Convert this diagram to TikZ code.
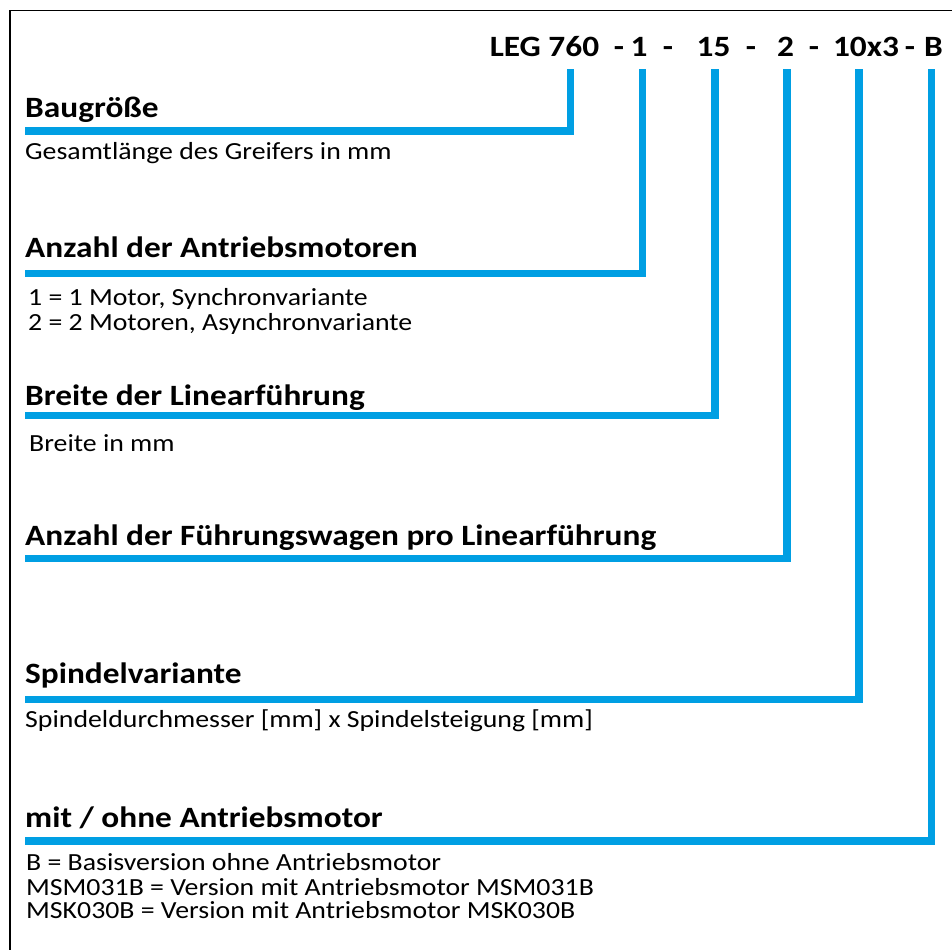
\documentclass[tikz,border=0pt]{standalone}
\usepackage{fontspec}
\setmainfont{Carlito}[FakeStretch=1.13]
\definecolor{legblue}{RGB}{0,159,227}
\tikzset{
  code/.style={anchor=base,inner sep=0pt,font=\fontsize{29.5}{35}\selectfont\bfseries},
  head/.style={anchor=base west,inner sep=0pt,font=\fontsize{29.5}{35}\selectfont\bfseries},
  body/.style={anchor=base west,inner sep=0pt,font=\fontsize{24.6}{29}\selectfont},
  bar/.style={draw=legblue,line width=7.3pt,line join=miter},
}
\begin{document}
\begin{tikzpicture}[x=1pt,y=-1pt]
        \useasboundingbox (0,0) rectangle (952,950);
        \draw[line width=1.5pt] (952,10.5) -- (10,10.5) -- (10,950);

        % type code
        \node[code] (leg)  at (544.5,56.7) {LEG 760};
        \node[code] (m1)   at (619,56.7)   {-};
        \node[code] (c1)   at (639,56.7)   {1};
        \node[code] (m2)   at (668,56.7)   {-};
        \node[code] (c2)   at (713.5,56.7) {15};
        \node[code] (m3)   at (751,56.7)   {-};
        \node[code] (c3)   at (785.5,56.7) {2};
        \node[code] (m4)   at (814,56.7)   {-};
        \node[code] (c4)   at (866,56.7)   {10x3};
        \node[code] (m5)   at (910,56.7)   {-};
        \node[code] (c5)   at (933.4,56.7) {B};

        % headings
        \node[head] (h0) at (25,117)   {Baugröße};
        \node[head] (h1) at (25,257)   {Anzahl der Antriebsmotoren};
        \node[head] (h2) at (25,405)   {Breite der Linearführung};
        \node[head] (h3) at (25,545)   {Anzahl der Führungswagen pro Linearführung};
        \node[head] (h4) at (25,683)   {Spindelvariante};
        \node[head] (h5) at (25,827)   {mit / ohne Antriebsmotor};

        % descriptions
        \node[body] (b0)  at (25,159)   {Gesamtlänge des Greifers in mm};
        \node[body] (b1a) at (28,305)   {1 = 1 Motor, Synchronvariante};
        \node[body] (b1b) at (28,330)   {2 = 2 Motoren, Asynchronvariante};
        \node[body] (b2)  at (29,451)   {Breite in mm};
        \node[body] (b4)  at (25,727)   {Spindeldurchmesser [mm] x Spindelsteigung [mm]};
        \node[body] (b5a) at (26,870.7) {B = Basisversion ohne Antriebsmotor};
        \node[body] (b5b) at (26,895)   {MSM031B = Version mit Antriebsmotor MSM031B};
        \node[body] (b5c) at (26,918.5) {MSK030B = Version mit Antriebsmotor MSK030B};

        % blue leaders
        \foreach \n/\x/\y in {0/570.5/131,1/642.5/273.7,2/715/415.5,3/787/558.7,4/859/699.7,5/931.3/841} {
          \coordinate (top\n) at (\x,69);
          \coordinate (end\n) at (25.3,\y);
          \draw[bar] (top\n) |- (end\n);
        }

      \end{tikzpicture}
\end{document}
